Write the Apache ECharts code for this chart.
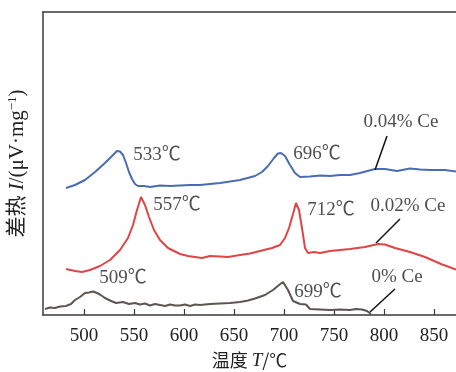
<!DOCTYPE html>
<html>
<head>
<meta charset="utf-8">
<script src="https://cdn.jsdelivr.net/npm/echarts@6/dist/echarts.min.js"></script>
<style>
  html, body { margin: 0; padding: 0; background: #fff; }
  #chart { width: 456px; height: 372px; }
</style>
</head>
<body>
<div id="chart"></div>
<script>
// 温度 T/℃ 与差热读数（任意单位，从图中估读）
const ce004 = [
  [482, 127], [491, 130], [501, 135], [511, 143], [521, 152], [528, 159], [533, 164],
  [536, 163.5], [539, 160], [542, 152], [545, 143], [548, 136], [551, 131], [554, 129],
  [560, 129], [566, 128], [576, 129.5],
  [586, 129], [596, 129.5], [606, 130], [616, 130], [626, 131], [636, 132], [646, 133.5],
  [656, 135], [671, 139], [678, 143], [684, 149], [690, 157], [694, 161.5], [697, 162],
  [701, 159], [706, 150], [711, 142], [716, 138], [726, 138.5], [736, 139.5], [746, 139],
  [756, 140], [766, 140], [776, 142], [791, 146], [801, 146], [813, 144], [826, 146.5],
  [836, 145.5], [846, 145], [861, 145], [872, 143.5]
];
const ce002 = [
  [482, 46], [491, 44], [498, 43], [506, 45], [516, 49], [526, 55], [536, 65], [544, 77],
  [549, 90], [553, 105], [557, 118], [561, 110], [565, 98], [570, 85], [576, 75], [584, 67],
  [596, 61], [604, 59], [611, 58], [618, 57], [626, 59], [636, 58.5], [644, 58], [656, 60],
  [666, 61.5], [676, 64], [688, 67], [696, 70], [701, 77], [705, 87], [709, 101], [712, 112],
  [715, 105], [718, 87], [721, 67], [724, 62], [730, 63], [736, 62], [746, 64], [756, 65],
  [766, 66], [781, 68], [794, 71], [801, 70.5], [811, 67], [826, 63], [841, 58], [857, 51],
  [872, 45.5]
];
const ce000 = [
  [461, 6], [466, 7.5], [471, 7], [476, 8.5], [482, 9], [487, 11], [491, 15], [496, 18],
  [501, 22], [505, 22.5], [509, 23.5], [513, 22], [516, 20.5], [521, 17], [526, 14.5],
  [532, 12], [539, 13], [545, 11], [551, 12], [556, 10.5], [561, 11.5], [566, 9.5],
  [571, 11], [576, 10], [581, 9], [586, 10.5], [591, 9.5], [596, 9.5], [601, 10.5],
  [606, 9], [611, 10.5], [616, 10], [626, 11], [636, 11.5], [646, 12], [656, 13],
  [664, 14.5], [671, 16.5], [681, 20], [689, 25], [695, 30], [699, 33], [704, 25],
  [709, 14], [716, 11], [722, 10.5], [726, 6], [736, 5.5], [746, 5], [756, 5.5],
  [766, 5], [772, 6], [778, 5.5], [783, 4], [787, 1]
];

// 峰值与曲线标注
const peakLabels = [
  [573, 160, '533℃'], [733, 161, '696℃'],
  [593, 110, '557℃'], [747, 104.5, '712℃'],
  [539, 36.5, '509℃'], [734, 23, '699℃'],
  [817, 192.5, '0.04% Ce'], [824, 108.5, '0.02% Ce'], [813, 38, '0% Ce']
];
const arrowLines = [
  [[803, 179], [791, 145]],
  [[816, 96], [792, 72]],
  [[811, 26], [786, 3]]
];
const tickValues = [500, 550, 600, 650, 700, 750, 800, 850];

const serif = "'Liberation Serif', 'Noto Sans CJK SC', serif";
const axisColor = '#3a3a3a';

const chart = echarts.init(document.getElementById('chart'));

chart.setOption({
  animation: false,
  backgroundColor: '#fff',
  grid: { left: 43, right: 0, top: 12, bottom: 57, outerBoundsMode: 'none', containLabel: false },
  xAxis: [
    {
      type: 'value',
      min: 459,
      max: 872,
      name: '{c|温度 }{i|T}{c|/℃}',
      nameLocation: 'middle',
      nameGap: 36,
      nameTextStyle: {
        rich: {
          c: { fontFamily: "'Noto Sans CJK SC', sans-serif", fontSize: 18, color: '#222' },
          i: { fontFamily: serif, fontStyle: 'italic', fontSize: 19, color: '#222' }
        }
      },
      axisLine: { lineStyle: { color: axisColor, width: 1.5 } },
      axisTick: { inside: true, length: 6, customValues: tickValues, lineStyle: { color: axisColor, width: 1.2 } },
      axisLabel: { customValues: tickValues, margin: 12, fontFamily: serif, fontSize: 19, color: '#222' },
      splitLine: { show: false }
    },
    {
      type: 'value',
      position: 'top',
      min: 459,
      max: 872,
      axisLine: { lineStyle: { color: axisColor, width: 1.5 } },
      axisTick: { show: false },
      axisLabel: { show: false },
      splitLine: { show: false }
    }
  ],
  yAxis: {
    type: 'value',
    min: 0,
    max: 303,
    name: '{c|差热 }{i|I}{c|/(μV·mg}{s|−1}{c|)}',
    nameLocation: 'middle',
    nameGap: 15,
    nameTextStyle: {
      rich: {
        c: { fontFamily: "'Liberation Serif', 'Noto Sans CJK SC', serif", fontSize: 21, color: '#222' },
        i: { fontFamily: serif, fontStyle: 'italic', fontSize: 21, color: '#222' },
        s: { fontFamily: serif, fontSize: 13, color: '#222', verticalAlign: 'top', padding: [0, 0, 9, 0] }
      }
    },
    axisLine: { show: true, lineStyle: { color: axisColor, width: 1.5 } },
    axisTick: { show: false },
    axisLabel: { show: false },
    splitLine: { show: false }
  },
  series: [
    {
      name: '0.04% Ce',
      type: 'line',
      data: ce004,
      showSymbol: false,
      lineStyle: { color: '#4a6cb3', width: 2 }
    },
    {
      name: '0.02% Ce',
      type: 'line',
      data: ce002,
      showSymbol: false,
      lineStyle: { color: '#e04545', width: 2 }
    },
    {
      name: '0% Ce',
      type: 'line',
      data: ce000,
      showSymbol: false,
      lineStyle: { color: '#5e5550', width: 2 },
      markLine: {
        silent: true,
        symbol: ['none', 'arrow'],
        symbolSize: [0, 10],
        label: { show: false },
        lineStyle: { color: '#111', width: 1.5, type: 'solid' },
        data: arrowLines.map(([a, b]) => [{ coord: a }, { coord: b }])
      }
    },
    {
      name: 'labels',
      type: 'scatter',
      data: peakLabels,
      symbolSize: 1,
      itemStyle: { color: 'rgba(0,0,0,0)' },
      label: {
        show: true,
        position: 'inside',
        formatter: p => p.data[2],
        fontFamily: serif,
        fontSize: 19,
        color: '#222'
      }
    }
  ]
});
</script>
</body>
</html>
